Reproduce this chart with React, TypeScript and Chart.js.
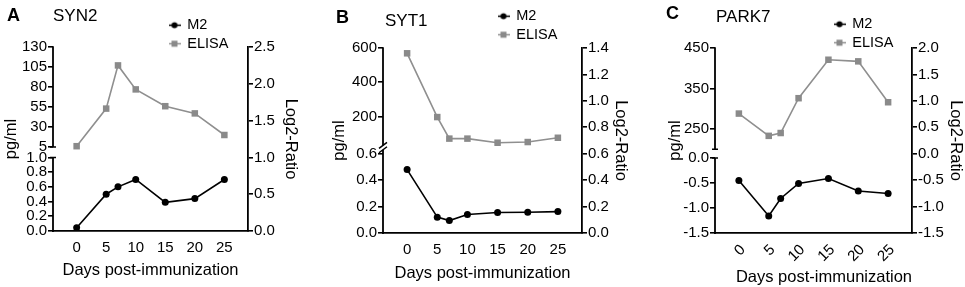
import React, { useEffect, useRef } from "react";
import { Chart, registerables } from "chart.js";
Chart.register(...registerables);

const FONT = "'Liberation Sans', Arial, Helvetica, sans-serif";

// shared x values
const days = [0, 5, 7, 10, 15, 20, 25];
const xTicks = [0, 5, 10, 15, 20, 25];

// Panel A — SYN2
const elisaA = [6, 53, 107, 77, 56, 47, 20];
const m2A = [0.045, 0.5, 0.6, 0.7, 0.39, 0.44, 0.7];
const upperTicksA = [5, 30, 55, 80, 105, 130];
const lowerTicksA = [0, 0.2, 0.4, 0.6, 0.8, 1.0];
const rightTicksA = [0, 0.5, 1.0, 1.5, 2.0, 2.5];

// Panel B — SYT1
const elisaB = [569, 196, 70, 70, 46, 50, 75];
const m2B = [0.48, 0.12, 0.094, 0.14, 0.155, 0.157, 0.162];
const upperTicksB = [200, 400, 600];
const lowerTicksB = [0, 0.2, 0.4, 0.6];
const rightTicksB = [0, 0.2, 0.4, 0.6, 0.8, 1.0, 1.2, 1.4];

// Panel C — PARK7
const elisaC = [288, 233, 240, 326, 421, 417, 316];
const m2C = [-0.45, -1.16, -0.81, -0.51, -0.41, -0.66, -0.71];
const upperTicksC = [250, 350, 450];
const lowerTicksC = [-1.5, -1.0, -0.5, 0.0];
const rightTicksC = [-1.5, -1.0, -0.5, 0.0, 0.5, 1.0, 1.5, 2.0];

const panels = [
  {
    letter: "A", gene: "SYN2", elisa: elisaA, m2: m2A,
    upperTicks: upperTicksA, lowerTicks: lowerTicksA, rightTicks: rightTicksA,
    topMin: -100, topMax: 130, lowMin: 0, lowMax: 2.5, rMin: 0, rMax: 2.5,
    upperEnd: 5, lowerStart: 1.0, breakStyle: "gap",
    left: 0, w: 322, padL: 2, wL: 51, padR: 22, wR: 52, top: 47, bottom: 231,
    xTitlePad: 7, xTitleAlign: "center", xTickPad: 0,
    legendX: 165, legendY: 14, rotate: 0, labelOffset: 0,
    letterPos: [7, 6], genePos: [53, 7],
  },
  {
    letter: "B", gene: "SYT1", elisa: elisaB, m2: m2B,
    upperTicks: upperTicksB, lowerTicks: lowerTicksB, rightTicks: rightTicksB,
    topMin: -482, topMax: 600, lowMin: 0, lowMax: 1.4, rMin: 0, rMax: 1.4,
    upperEnd: 30, lowerStart: 0.63, breakStyle: "slash",
    left: 322, w: 321, padL: 8, wL: 53, padR: 13, wR: 48, top: 48, bottom: 233,
    xTitlePad: 4, xTitleAlign: "center", xTickPad: 0,
    legendX: 172, legendY: 5, rotate: 0, labelOffset: 0,
    letterPos: [336, 8], genePos: [385, 12],
  },
  {
    letter: "C", gene: "PARK7", elisa: elisaC, m2: m2C,
    upperTicks: upperTicksC, lowerTicks: lowerTicksC, rightTicks: rightTicksC,
    topMin: -7, topMax: 450, lowMin: -1.5, lowMax: 2.2, rMin: -1.5, rMax: 2.0,
    upperEnd: 200, lowerStart: 0.0, breakStyle: "gap",
    left: 643, w: 322, padL: 23, wL: 49, padR: 0, wR: 53, top: 48, bottom: 233,
    xTitlePad: 0, xTitleAlign: "end", xTickPad: 0,
    legendX: 187, legendY: 13, rotate: 45, labelOffset: 4,
    letterPos: [666, 4], genePos: [716, 8],
  },
];

const GRAY_LINE = "#8f8f8f";
const GRAY_PT = "#8a8a8a";

function makeIcon(kind: "circle" | "rect") {
  const c = document.createElement("canvas");
  c.width = 12;
  c.height = 9;
  const ctx = c.getContext("2d")!;
  const col = kind === "circle" ? "#000" : GRAY_LINE;
  ctx.strokeStyle = col;
  ctx.lineWidth = 1.5;
  ctx.beginPath();
  ctx.moveTo(0, 4.5);
  ctx.lineTo(12, 4.5);
  ctx.stroke();
  ctx.fillStyle = kind === "circle" ? "#000" : GRAY_PT;
  if (kind === "circle") {
    ctx.beginPath();
    ctx.arc(6, 4.5, 3, 0, Math.PI * 2);
    ctx.fill();
  } else {
    ctx.fillRect(3, 1.5, 6, 6);
  }
  return c;
}

const axisBreak = {
  id: "axisBreak",
  afterDraw(chart: any, _a: any, o: any) {
    const { ctx, chartArea } = chart;
    const top = chart.scales.yTop;
    const low = chart.scales.yLow;
    const x = chartArea.left;
    const y1 = top.getPixelForValue(o.upperEnd);
    const y2 = low.getPixelForValue(o.lowerStart);
    ctx.save();
    ctx.strokeStyle = "#000";
    ctx.lineWidth = 1.8;
    ctx.beginPath();
    ctx.moveTo(x, chartArea.top - 0.8);
    ctx.lineTo(x, y1);
    ctx.moveTo(x, y2);
    ctx.lineTo(x, chartArea.bottom + 0.9);
    ctx.stroke();
    ctx.lineWidth = 1.5;
    ctx.beginPath();
    if (o.style === "gap") {
      ctx.moveTo(x - 3, y1);
      ctx.lineTo(x + 3, y1);
      ctx.moveTo(x - 3, y2);
      ctx.lineTo(x + 3, y2);
    } else {
      ctx.moveTo(x - 4, y1 + 3);
      ctx.lineTo(x + 4, y1 - 3);
      ctx.moveTo(x - 4, y2 + 3);
      ctx.lineTo(x + 4, y2 - 3);
    }
    ctx.stroke();
    ctx.restore();
  },
};

const legendPlace = {
  id: "legendPlace",
  afterLayout(chart: any, _a: any, o: any) {
    const lg = chart.legend;
    if (!lg) return;
    lg.left = o.x;
    lg.top = o.y;
    lg.right = o.x + 120;
    lg.bottom = o.y + 60;
    lg.width = 120;
    lg.height = 60;
  },
};

function makeConfig(p: any, icons: any[]) {
  const toTop = (v: number) =>
    p.topMin + ((v - p.lowMin) / (p.lowMax - p.lowMin)) * (p.topMax - p.topMin);
  const leftVals = [...p.upperTicks, ...p.lowerTicks.map(toTop)];
  const leftLabels = [
    ...p.upperTicks.map((v: number) => String(v)),
    ...p.lowerTicks.map((v: number) => v.toFixed(1)),
  ];
  const tickFont = { family: FONT, size: 15 };
  const titleFont = { family: FONT, size: 16.5 };
  return {
    type: "line",
    data: {
      datasets: [
        {
          label: "M2",
          data: days.map((d, i) => ({ x: d, y: p.m2[i] })),
          yAxisID: "yLow",
          borderColor: "#000",
          backgroundColor: "#000",
          borderWidth: 1.6,
          pointRadius: 3.5,
          pointBorderWidth: 0,
          pointStyle: "circle",
          tension: 0,
        },
        {
          label: "ELISA",
          data: days.map((d, i) => ({ x: d, y: p.elisa[i] })),
          yAxisID: "yTop",
          borderColor: GRAY_LINE,
          backgroundColor: GRAY_PT,
          borderWidth: 1.6,
          pointRadius: 4.6,
          pointBorderWidth: 0,
          pointStyle: "rect",
          tension: 0,
        },
      ],
    },
    options: {
      animation: false,
      responsive: false,
      layout: { padding: { left: p.padL, right: p.padR, top: p.top, bottom: 0 } },
      plugins: {
        tooltip: { enabled: false },
        legend: {
          position: "chartArea",
          align: "start",
          labels: {
            usePointStyle: true,
            pointStyleWidth: 11,
            padding: 4,
            color: "#000",
            font: { family: FONT, size: 14.5 },
            generateLabels: (chart: any) => {
              const items = (Chart.defaults.plugins.legend.labels as any).generateLabels(chart);
              return items.map((it: any) => ({ ...it, pointStyle: icons[it.datasetIndex] }));
            },
          },
        },
        axisBreak: { upperEnd: p.upperEnd, lowerStart: p.lowerStart, style: p.breakStyle },
        legendPlace: { x: p.legendX, y: p.legendY },
      },
      scales: {
        x: {
          type: "linear",
          min: -4,
          max: 29,
          afterBuildTicks: (s: any) => {
            s.ticks = xTicks.map((value) => ({ value }));
          },
          afterFit: (s: any) => {
            s.height = 287 - p.bottom;
          },
          ticks: {
            autoSkip: false,
            color: "#000",
            font: tickFont,
            padding: p.xTickPad,
            minRotation: p.rotate,
            maxRotation: p.rotate,
            labelOffset: p.labelOffset,
            callback: (v: any) => String(v),
          },
          grid: { display: false },
          border: { color: "#000", width: 1.8 },
          title: {
            display: true,
            text: "Days post-immunization",
            align: p.xTitleAlign,
            color: "#000",
            font: titleFont,
            padding: { top: 0, bottom: p.xTitlePad },
          },
        },
        yTop: {
          type: "linear",
          position: "left",
          min: p.topMin,
          max: p.topMax,
          afterBuildTicks: (s: any) => {
            s.ticks = leftVals.map((value) => ({ value }));
          },
          afterFit: (s: any) => {
            s.width = p.wL;
          },
          ticks: {
            autoSkip: false,
            color: "#000",
            font: tickFont,
            padding: 1,
            callback: (_v: any, i: number) => leftLabels[i],
          },
          grid: { drawOnChartArea: false, color: "#000", lineWidth: 1.6, tickLength: 5 },
          border: { display: false },
          title: { display: true, text: "pg/ml", color: "#000", font: titleFont, padding: 0 },
        },
        yLow: {
          type: "linear",
          display: false,
          min: p.lowMin,
          max: p.lowMax,
        },
        yR: {
          type: "linear",
          position: "right",
          display: true,
          min: p.rMin,
          max: p.rMax,
          afterBuildTicks: (s: any) => {
            s.ticks = p.rightTicks.map((value: number) => ({ value }));
          },
          afterFit: (s: any) => {
            s.width = p.wR;
          },
          ticks: {
            autoSkip: false,
            color: "#000",
            font: tickFont,
            padding: 1,
            callback: (v: any) => Number(v).toFixed(1),
          },
          grid: { drawOnChartArea: false, color: "#000", lineWidth: 1.6, tickLength: 5 },
          border: { color: "#000", width: 1.8 },
          title: { display: true, text: "Log2-Ratio", color: "#000", font: titleFont, padding: 0 },
        },
      },
    },
    plugins: [axisBreak, legendPlace],
  };
}

function Panel({ p }: { p: any }) {
  const ref = useRef<HTMLCanvasElement | null>(null);
  useEffect(() => {
    if (!ref.current) return;
    const icons = [makeIcon("circle"), makeIcon("rect")];
    const chart = new Chart(ref.current, makeConfig(p, icons) as any);
    return () => chart.destroy();
  }, [p]);
  return (
    <canvas
      ref={ref}
      width={p.w}
      height={287}
      style={{ position: "absolute", left: p.left, top: 0, width: p.w, height: 287 }}
    />
  );
}

export default function App() {
  return (
    <div
      style={{
        position: "fixed",
        left: 0,
        top: 0,
        width: 965,
        height: 287,
        background: "#fff",
        overflow: "hidden",
        fontFamily: FONT,
        color: "#000",
      }}
    >
      {panels.map((p) => (
        <Panel key={p.letter} p={p} />
      ))}
      {panels.map((p) => (
        <React.Fragment key={"t" + p.letter}>
          <div
            style={{
              position: "absolute",
              left: p.letterPos[0],
              top: p.letterPos[1],
              fontSize: 18,
              fontWeight: "bold",
              lineHeight: "18px",
              whiteSpace: "nowrap",
            }}
          >
            {p.letter}
          </div>
          <div
            style={{
              position: "absolute",
              left: p.genePos[0],
              top: p.genePos[1],
              fontSize: 17,
              lineHeight: "17px",
              whiteSpace: "nowrap",
            }}
          >
            {p.gene}
          </div>
        </React.Fragment>
      ))}
    </div>
  );
}
